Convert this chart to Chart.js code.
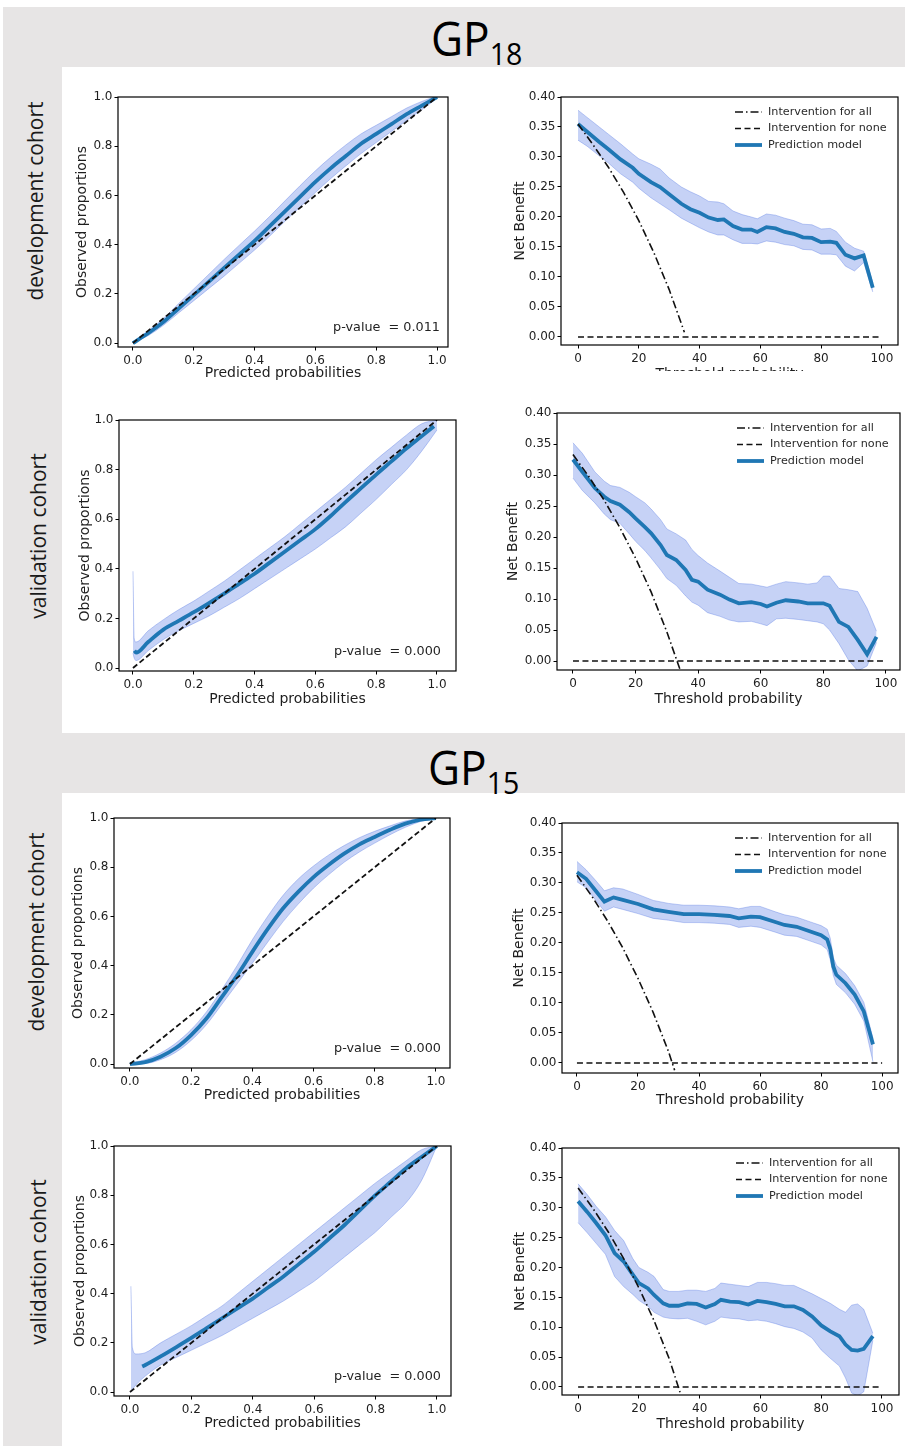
<!DOCTYPE html>
<html>
<head>
<meta charset="utf-8">
<title>GP18 / GP15 calibration and decision curves</title>
<script src="https://cdn.jsdelivr.net/npm/chart.js@4.4.1/dist/chart.umd.min.js"></script>
<style>
  html, body { margin: 0; padding: 0; background: #fff; }
  #page { position: relative; width: 905px; height: 1446px; overflow: hidden; background: #fff; }
  .gray { position: absolute; background: #e7e5e5; }
  .white { position: absolute; background: #fff; }
  .hdr { position: absolute; font-family: "Liberation Sans Narrow", "Open Sans", sans-serif; font-size: 48px; line-height: 48px; color: #000; white-space: nowrap;
         transform: scaleX(0.92); transform-origin: left top; }
  .hdr .sub { font-size: 31px; position: relative; top: 9px; }
  .row { position: absolute; font-family: "Open Sans", sans-serif; font-size: 21px; color: #1a1a1a; white-space: nowrap;
         transform: translate(-50%, -50%) rotate(-90deg); }
  .panel { position: absolute; overflow: hidden; }
  .panel canvas { display: block; }
</style>
</head>
<body>
<div id="page">
  <div class="gray" style="left:3px;top:7px;width:902px;height:1439px;"></div>
  <div class="white" style="left:62px;top:67px;width:843px;height:666px;"></div>
  <div class="white" style="left:62px;top:793px;width:843px;height:653px;"></div>

  <div class="hdr" style="left:431px;top:14px;">GP<span class="sub">18</span></div>
  <div class="hdr" style="left:428px;top:743px;">GP<span class="sub">15</span></div>

  <div class="row" style="left:35px;top:201px;">development cohort</div>
  <div class="row" style="left:38px;top:536px;">validation cohort</div>
  <div class="row" style="left:36px;top:932px;">development cohort</div>
  <div class="row" style="left:38px;top:1262px;">validation cohort</div>
</div>

<script>
// ---------- tick labels ----------
const CAL_TICK_LABELS = ['0.0', '0.2', '0.4', '0.6', '0.8', '1.0'];
const NB_TICK_LABELS = ['0.00', '0.05', '0.10', '0.15', '0.20', '0.25', '0.30', '0.35', '0.40'];
const THRESH_TICK_LABELS = ['0', '20', '40', '60', '80', '100'];
const P_VALUES = ['p-value  = 0.011', 'p-value  = 0.000', 'p-value  = 0.000', 'p-value  = 0.000'];

// ---------- shared reference lines ----------
const CAL_GRID = [0.00,0.05,0.10,0.15,0.20,0.25,0.30,0.35,0.40,0.45,0.50,0.55,0.60,0.65,0.70,0.75,0.80,0.85,0.90,0.95,1.00];
const DIAG_X = [0, 1];
const DIAG_Y = [0, 1];
const NONE_X = [0, 100];
const NONE_Y = [0, 0];

// ---------- GP18, development cohort: calibration ----------
const gp18DevCalLine  = [0.000,0.040,0.085,0.140,0.195,0.250,0.305,0.360,0.415,0.475,0.535,0.595,0.655,0.710,0.760,0.810,0.850,0.890,0.930,0.965,1.000];
const gp18DevCalUpper = [0.005,0.050,0.100,0.160,0.220,0.280,0.340,0.398,0.455,0.515,0.578,0.640,0.700,0.755,0.805,0.850,0.885,0.920,0.955,0.982,1.005];
const gp18DevCalLower = [0.000,0.030,0.072,0.122,0.172,0.222,0.272,0.325,0.378,0.435,0.495,0.553,0.612,0.668,0.720,0.770,0.815,0.860,0.905,0.948,0.995];

// ---------- GP18, validation cohort: calibration ----------
const gp18ValBandX    = [0.000,0.004,0.010,0.05,0.10,0.15,0.20,0.25,0.30,0.35,0.40,0.45,0.50,0.55,0.60,0.65,0.70,0.75,0.80,0.85,0.90,0.95,1.00];
const gp18ValCalUpper = [0.390,0.120,0.105,0.150,0.195,0.235,0.270,0.310,0.350,0.395,0.440,0.485,0.530,0.580,0.630,0.680,0.730,0.785,0.840,0.890,0.940,0.985,1.000];
const gp18ValCalLower = [0.060,0.040,0.030,0.070,0.115,0.150,0.180,0.210,0.245,0.280,0.320,0.360,0.400,0.440,0.480,0.525,0.570,0.625,0.680,0.740,0.800,0.875,0.960];
const gp18ValLineX    = [0.005,0.010,0.05,0.10,0.15,0.20,0.25,0.30,0.35,0.40,0.45,0.50,0.55,0.60,0.65,0.70,0.75,0.80,0.85,0.90,0.95,0.99];
const gp18ValCalLine  = [0.070,0.062,0.105,0.155,0.190,0.225,0.262,0.300,0.340,0.380,0.425,0.470,0.515,0.560,0.613,0.670,0.725,0.780,0.833,0.886,0.935,0.975];

// ---------- GP15, development cohort: calibration ----------
const gp15DevCalLine  = [0.000,0.008,0.030,0.065,0.118,0.185,0.272,0.360,0.456,0.548,0.632,0.700,0.760,0.810,0.855,0.893,0.923,0.952,0.977,0.993,1.000];
const gp15DevCalUpper = [0.003,0.018,0.045,0.085,0.140,0.212,0.302,0.400,0.505,0.600,0.685,0.752,0.805,0.850,0.888,0.920,0.946,0.968,0.988,0.998,1.002];
const gp15DevCalLower = [0.000,0.002,0.018,0.048,0.096,0.160,0.242,0.325,0.410,0.495,0.578,0.650,0.715,0.770,0.820,0.862,0.898,0.932,0.962,0.986,0.998];

// ---------- GP15, validation cohort: calibration ----------
const gp15ValBandX    = [0.003,0.008,0.020,0.05,0.10,0.15,0.20,0.25,0.30,0.35,0.40,0.45,0.50,0.55,0.60,0.65,0.70,0.75,0.80,0.85,0.90,0.95,1.00];
const gp15ValCalUpper = [0.430,0.180,0.155,0.160,0.200,0.235,0.270,0.310,0.350,0.400,0.450,0.500,0.550,0.600,0.650,0.700,0.750,0.800,0.850,0.895,0.940,0.985,1.000];
const gp15ValCalLower = [0.000,0.010,0.030,0.065,0.110,0.140,0.170,0.200,0.230,0.265,0.300,0.335,0.370,0.410,0.450,0.500,0.550,0.600,0.650,0.710,0.770,0.860,1.000];
const gp15ValLineX    = [0.04,0.05,0.10,0.15,0.20,0.25,0.30,0.35,0.40,0.45,0.50,0.55,0.60,0.65,0.70,0.75,0.80,0.85,0.90,0.95,1.00];
const gp15ValCalLine  = [0.104,0.110,0.145,0.182,0.220,0.260,0.300,0.340,0.380,0.425,0.470,0.520,0.570,0.625,0.680,0.740,0.800,0.855,0.910,0.955,1.000];

// ---------- GP18, development cohort: decision curve ----------
const gp18DevNbX     = [0,3,7,10,14,18,20,24,27,30,34,37,40,43,46,48,51,54,57,59,62,65,68,71,74,77,80,83,85,88,91,94,97];
const gp18DevNb      = [0.355,0.342,0.325,0.313,0.296,0.282,0.272,0.258,0.250,0.238,0.222,0.213,0.207,0.199,0.195,0.196,0.185,0.179,0.179,0.175,0.183,0.181,0.175,0.172,0.166,0.165,0.158,0.159,0.157,0.137,0.131,0.136,0.082];
const gp18DevNbUpper = [0.378,0.366,0.350,0.338,0.322,0.305,0.297,0.288,0.280,0.265,0.250,0.242,0.235,0.226,0.225,0.222,0.210,0.204,0.200,0.197,0.205,0.203,0.198,0.194,0.188,0.187,0.180,0.181,0.176,0.158,0.148,0.143,0.090];
const gp18DevNbLower = [0.328,0.318,0.302,0.290,0.272,0.258,0.248,0.232,0.222,0.212,0.198,0.190,0.182,0.175,0.170,0.170,0.162,0.156,0.156,0.155,0.160,0.158,0.154,0.152,0.146,0.145,0.138,0.138,0.137,0.118,0.110,0.124,0.075];
const gp18DevAllX    = [0,5,10,15,20,25,30,35];
const gp18DevAll     = [0.355,0.320,0.283,0.241,0.194,0.140,0.079,0.008];

// ---------- GP18, validation cohort: decision curve ----------
const gp18ValNbX     = [0,3,7,10,12,15,18,20,23,25,28,30,33,36,38,40,43,47,50,53,57,60,62,65,68,72,75,78,80,82,85,88,91,94,97];
const gp18ValNb      = [0.325,0.305,0.279,0.265,0.258,0.252,0.240,0.230,0.216,0.206,0.187,0.171,0.163,0.147,0.131,0.128,0.115,0.107,0.099,0.093,0.095,0.092,0.088,0.094,0.098,0.096,0.093,0.093,0.093,0.089,0.063,0.055,0.034,0.011,0.039];
const gp18ValNbUpper = [0.352,0.335,0.305,0.290,0.283,0.280,0.272,0.265,0.255,0.245,0.228,0.213,0.205,0.195,0.180,0.170,0.158,0.145,0.135,0.125,0.124,0.121,0.119,0.124,0.128,0.126,0.124,0.126,0.137,0.137,0.117,0.115,0.112,0.085,0.048];
const gp18ValNbLower = [0.295,0.275,0.255,0.237,0.228,0.222,0.205,0.193,0.178,0.166,0.147,0.133,0.122,0.105,0.095,0.090,0.078,0.072,0.066,0.063,0.064,0.060,0.057,0.068,0.069,0.067,0.065,0.063,0.060,0.050,0.028,0.002,-0.016,-0.008,0.030];
const gp18ValAllX    = [0,5,10,15,20,25,30,34.5];
const gp18ValAll     = [0.333,0.298,0.259,0.215,0.166,0.111,0.047,-0.018];

// ---------- GP15, development cohort: decision curve ----------
const gp15DevNbX     = [0,3,6,9,12,15,20,25,30,35,40,45,50,53,57,60,65,68,72,76,80,82,83,84,85,88,91,94,97];
const gp15DevNb      = [0.318,0.307,0.288,0.269,0.276,0.272,0.265,0.256,0.252,0.248,0.248,0.247,0.245,0.241,0.244,0.243,0.235,0.230,0.227,0.220,0.213,0.206,0.190,0.161,0.147,0.133,0.114,0.086,0.031];
const gp15DevNbUpper = [0.336,0.322,0.305,0.287,0.292,0.290,0.281,0.271,0.266,0.263,0.263,0.262,0.260,0.257,0.261,0.261,0.252,0.247,0.243,0.236,0.229,0.223,0.208,0.176,0.163,0.149,0.129,0.101,0.041];
const gp15DevNbLower = [0.302,0.292,0.272,0.253,0.260,0.256,0.249,0.241,0.238,0.234,0.234,0.233,0.231,0.226,0.228,0.226,0.218,0.213,0.211,0.204,0.197,0.189,0.172,0.146,0.131,0.117,0.098,0.070,0.002];
const gp15DevAllX    = [0,5,10,15,20,25,30,32];
const gp15DevAll     = [0.313,0.277,0.237,0.192,0.141,0.084,0.019,-0.012];

// ---------- GP15, validation cohort: decision curve ----------
const gp15ValNbX     = [0,3,6,9,12,15,18,20,23,25,28,30,33,36,39,42,45,47,50,53,56,59,62,65,68,71,74,77,80,83,86,88,90,92,94,97];
const gp15ValNb      = [0.311,0.293,0.274,0.254,0.224,0.210,0.188,0.174,0.165,0.154,0.140,0.136,0.136,0.140,0.139,0.133,0.139,0.146,0.143,0.142,0.138,0.144,0.142,0.139,0.135,0.135,0.129,0.118,0.103,0.093,0.085,0.071,0.062,0.061,0.064,0.085];
const gp15ValNbUpper = [0.340,0.322,0.302,0.285,0.262,0.245,0.215,0.200,0.192,0.185,0.163,0.160,0.160,0.162,0.162,0.160,0.165,0.174,0.172,0.170,0.168,0.175,0.175,0.173,0.170,0.170,0.163,0.156,0.148,0.140,0.130,0.125,0.137,0.139,0.130,0.090];
const gp15ValNbLower = [0.275,0.258,0.240,0.222,0.185,0.168,0.155,0.145,0.135,0.125,0.117,0.115,0.114,0.115,0.110,0.104,0.110,0.117,0.115,0.114,0.111,0.112,0.110,0.106,0.101,0.098,0.092,0.082,0.062,0.048,0.035,0.015,-0.010,-0.015,-0.008,0.078];
const gp15ValAllX    = [0,5,10,15,20,25,30,34];
const gp15ValAll     = [0.333,0.298,0.259,0.215,0.166,0.111,0.047,-0.016];

// ---------- styling ----------
const MODEL_BLUE = '#1f77b4';
const BAND_FILL = 'rgba(65,105,225,0.30)';
const BAND_EDGE = 'rgba(65,105,225,0.40)';
const INK = '#1e1e1e';
const TICK_SIZE = 12;
const TITLE_SIZE = 14;

Chart.defaults.font.family = '"DejaVu Sans", sans-serif';
Chart.defaults.color = INK;

const pts = (xs, ys) => xs.map((x, i) => ({ x: x, y: ys[i] }));

// Black box around the plotting area (all four spines)
const framePlugin = {
  id: 'frame',
  afterDatasetsDraw(chart) {
    const { ctx, chartArea: a } = chart;
    ctx.save();
    ctx.strokeStyle = '#000';
    ctx.lineWidth = 1.2;
    ctx.strokeRect(a.left, a.top, a.right - a.left, a.bottom - a.top);
    ctx.restore();
  }
};

// Legend drawn inside the upper-right corner of the axes
const keyPlugin = {
  id: 'key',
  afterDraw(chart, args, opts) {
    if (!opts.show) return;
    const { ctx, chartArea: a } = chart;
    const items = chart.data.datasets.filter(d => d.label);
    ctx.save();
    ctx.font = '11.2px "DejaVu Sans"';
    ctx.textBaseline = 'middle';
    ctx.textAlign = 'left';
    items.forEach((d, i) => {
      const y = a.top + opts.top + i * opts.step;
      const x0 = a.right - opts.right;
      ctx.beginPath();
      ctx.setLineDash(d.borderDash || []);
      ctx.strokeStyle = d.borderColor;
      ctx.lineWidth = d.borderWidth;
      ctx.moveTo(x0, y);
      ctx.lineTo(x0 + 27, y);
      ctx.stroke();
      ctx.setLineDash([]);
      ctx.fillStyle = '#2a2a2a';
      ctx.fillText(d.label, x0 + 33, y);
    });
    ctx.restore();
  }
};

// Statistic written in the lower-right corner of the axes
const notePlugin = {
  id: 'note',
  afterDraw(chart, args, opts) {
    if (!opts.text) return;
    const { ctx, chartArea: a } = chart;
    ctx.save();
    ctx.font = '12.8px "DejaVu Sans"';
    ctx.fillStyle = '#222';
    ctx.textAlign = 'right';
    ctx.textBaseline = 'middle';
    ctx.fillText(opts.text, a.right - opts.right, a.bottom - opts.bottom);
    ctx.restore();
  }
};

function axis(min, max, labels, title, isX, fitSize, titlePad) {
  return {
    type: 'linear', min: min, max: max, bounds: 'data',
    afterBuildTicks: ax => { ax.ticks = labels.map(s => ({ value: parseFloat(s) })); },
    afterFit: ax => { if (isX) ax.height = fitSize; else ax.width = fitSize; },
    grid: { display: true, drawOnChartArea: false, drawTicks: true, tickLength: 3.5, color: '#000', lineWidth: 1 },
    border: { display: false },
    ticks: {
      autoSkip: false, maxRotation: 0, minRotation: 0,
      padding: isX ? 3 : 2,
      font: { size: TICK_SIZE }, color: INK,
      callback: (v, i) => labels[i]
    },
    title: {
      display: true, text: title, color: INK, font: { size: TITLE_SIZE },
      padding: isX ? { top: 0, bottom: titlePad } : { top: titlePad, bottom: 0 }
    }
  };
}

function bandSets(xs, up, lo, smooth) {
  const common = { pointRadius: 0, borderColor: BAND_EDGE, borderWidth: 0.8, order: 10,
                   cubicInterpolationMode: smooth ? 'monotone' : 'default', tension: 0 };
  return [
    Object.assign({ data: pts(xs, up), fill: '+1', backgroundColor: BAND_FILL }, common),
    Object.assign({ data: pts(xs, lo), fill: false }, common)
  ];
}

function buildPanel(p) {
  const PT = 10, PR = 10;
  const half = TITLE_SIZE * 1.2 / 2;
  const yw = Math.ceil(p.yGap + half + 2);
  const xh = Math.ceil(p.xGap + half + 2);
  const yPad = yw - p.yGap - half;
  const xPad = xh - p.xGap - half;
  const w = p.box.r - p.box.l + yw + PR;
  const h = p.box.b - p.box.t + PT + xh;

  const wrap = document.createElement('div');
  wrap.className = 'panel';
  wrap.style.left = (p.box.l - yw) + 'px';
  wrap.style.top = (p.box.t - PT) + 'px';
  wrap.style.width = w + 'px';
  wrap.style.height = (p.clipBottom ? p.clipBottom - (p.box.t - PT) : h) + 'px';
  const canvas = document.createElement('canvas');
  canvas.width = w;
  canvas.height = h;
  wrap.appendChild(canvas);
  document.getElementById('page').appendChild(wrap);

  new Chart(canvas, {
    type: 'line',
    data: { datasets: p.datasets },
    options: {
      responsive: false, animation: false, devicePixelRatio: 1,
      layout: { padding: { left: 0, top: PT, right: PR, bottom: 0 } },
      elements: { point: { radius: 0 } },
      plugins: {
        legend: { display: false }, tooltip: { enabled: false },
        key: p.key || { show: false },
        note: p.note || { text: '' }
      },
      scales: {
        x: axis(p.x[0], p.x[1], p.xTicks, p.xTitle, true, xh, xPad),
        y: axis(p.y[0], p.y[1], p.yTicks, p.yTitle, false, yw, yPad)
      }
    },
    plugins: [framePlugin, keyPlugin, notePlugin]
  });
}

function calibrationPanel(box, x, y, gaps, band, line, pText, pRight) {
  return {
    box: box, x: x, y: y, yGap: gaps[0], xGap: gaps[1],
    xTicks: CAL_TICK_LABELS, yTicks: CAL_TICK_LABELS,
    xTitle: 'Predicted probabilities', yTitle: 'Observed proportions',
    note: { text: pText, right: pRight, bottom: 19 },
    datasets: bandSets(band[0], band[1], band[2], true).concat([
      { data: pts(line[0], line[1]), borderColor: MODEL_BLUE, borderWidth: 3.8, pointRadius: 0,
        fill: false, cubicInterpolationMode: 'monotone', order: 5 },
      { data: pts(DIAG_X, DIAG_Y), borderColor: '#111', borderWidth: 1.8, borderDash: [5.5, 3],
        pointRadius: 0, fill: false, order: 1 }
    ])
  };
}

function decisionPanel(box, x, y, gaps, nb, all, clipBottom) {
  return {
    box: box, x: x, y: y, yGap: gaps[0], xGap: gaps[1], clipBottom: clipBottom,
    xTicks: THRESH_TICK_LABELS, yTicks: NB_TICK_LABELS,
    xTitle: 'Threshold probability', yTitle: 'Net Benefit',
    key: { show: true, right: 163, top: 15, step: 16.5 },
    datasets: bandSets(nb[0], nb[2], nb[3], false).concat([
      { label: 'Intervention for all', data: pts(all[0], all[1]), borderColor: '#111', borderWidth: 1.6,
        borderDash: [8, 3, 1.5, 3], pointRadius: 0, fill: false, order: 1 },
      { label: 'Intervention for none', data: pts(NONE_X, NONE_Y), borderColor: '#111', borderWidth: 1.6,
        borderDash: [6, 3.5], pointRadius: 0, fill: false, order: 1 },
      { label: 'Prediction model', data: pts(nb[0], nb[1]), borderColor: MODEL_BLUE, borderWidth: 3.8,
        pointRadius: 0, fill: false, order: 5 }
    ])
  };
}

const panels = [
  calibrationPanel({ l: 118, t: 97, r: 448, b: 347 }, [-0.049, 1.036], [-0.016, 1.0], [36, 26],
    [CAL_GRID, gp18DevCalUpper, gp18DevCalLower], [CAL_GRID, gp18DevCalLine], P_VALUES[0], 8),
  decisionPanel({ l: 561, t: 97, r: 898, b: 345 }, [-5.6, 105.3], [-0.0134, 0.40], [41, 29],
    [gp18DevNbX, gp18DevNb, gp18DevNbUpper, gp18DevNbLower], [gp18DevAllX, gp18DevAll], 371),
  calibrationPanel({ l: 119, t: 420, r: 456, b: 671 }, [-0.046, 1.0625], [-0.012, 1.0], [34, 28],
    [gp18ValBandX, gp18ValCalUpper, gp18ValCalLower], [gp18ValLineX, gp18ValCalLine], P_VALUES[1], 15),
  decisionPanel({ l: 557, t: 413, r: 900, b: 670 }, [-5.1, 104.5], [-0.0145, 0.40], [44, 29],
    [gp18ValNbX, gp18ValNb, gp18ValNbUpper, gp18ValNbLower], [gp18ValAllX, gp18ValAll]),
  calibrationPanel({ l: 114, t: 818, r: 450, b: 1068 }, [-0.052, 1.046], [-0.016, 1.0], [36, 27],
    [CAL_GRID, gp15DevCalUpper, gp15DevCalLower], [CAL_GRID, gp15DevCalLine], P_VALUES[2], 9),
  decisionPanel({ l: 562, t: 823, r: 898, b: 1073 }, [-4.9, 105.2], [-0.0167, 0.40], [43, 27],
    [gp15DevNbX, gp15DevNb, gp15DevNbUpper, gp15DevNbLower], [gp15DevAllX, gp15DevAll]),
  calibrationPanel({ l: 114, t: 1146, r: 451, b: 1396 }, [-0.052, 1.046], [-0.016, 1.0], [34, 27],
    [gp15ValBandX, gp15ValCalUpper, gp15ValCalLower], [gp15ValLineX, gp15ValCalLine], P_VALUES[3], 10),
  decisionPanel({ l: 562, t: 1148, r: 899, b: 1395 }, [-5.3, 105.6], [-0.0134, 0.40], [42, 29],
    [gp15ValNbX, gp15ValNb, gp15ValNbUpper, gp15ValNbLower], [gp15ValAllX, gp15ValAll])
];

panels.forEach(buildPanel);
</script>
</body>
</html>
